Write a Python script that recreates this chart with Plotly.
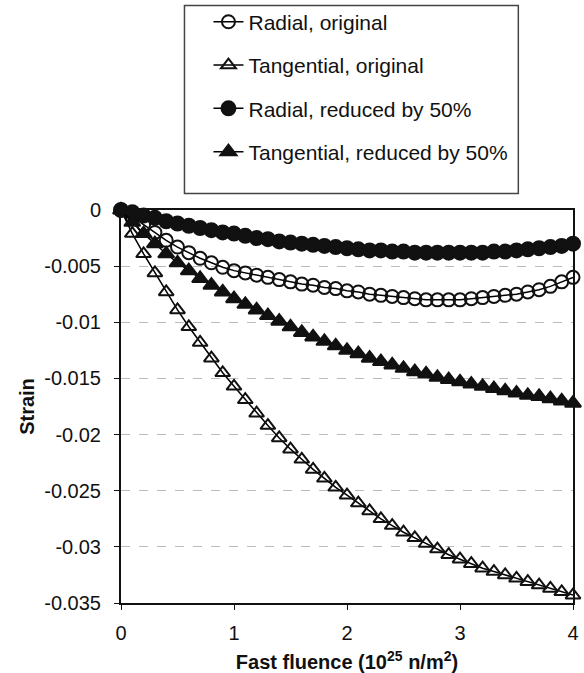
import plotly.graph_objects as go

fluence = [round(i * 0.1, 1) for i in range(41)]

radial_original = [
    0.0, -0.0006, -0.0013, -0.0020, -0.0027, -0.0033, -0.0038, -0.0043, -0.0047, -0.0051,
    -0.0054, -0.0056, -0.0058, -0.0060, -0.0062, -0.0064, -0.0066, -0.0067, -0.0069, -0.0070,
    -0.0072, -0.0073, -0.0075, -0.0076, -0.0077, -0.0078, -0.0079, -0.0080, -0.0080, -0.0080,
    -0.0080, -0.0079, -0.0078, -0.0077, -0.0076, -0.0075, -0.0073, -0.0071, -0.0068, -0.0064,
    -0.0060,
]

tangential_original = [
    0.0, -0.0021, -0.0039, -0.0056, -0.0073, -0.0089, -0.0104, -0.0118, -0.0132, -0.0145,
    -0.0157, -0.0169, -0.0181, -0.0192, -0.0203, -0.0213, -0.0222, -0.0231, -0.0239, -0.0247,
    -0.0254, -0.0261, -0.0268, -0.0275, -0.0281, -0.0287, -0.0292, -0.0297, -0.0302, -0.0307,
    -0.0311, -0.0315, -0.0319, -0.0322, -0.0325, -0.0328, -0.0331, -0.0334, -0.0337, -0.0340,
    -0.0343,
]

radial_reduced = [
    0.0, -0.0002, -0.0005, -0.0007, -0.0010, -0.0012, -0.0014, -0.0016, -0.0018, -0.0020,
    -0.0021, -0.0023, -0.0025, -0.0026, -0.0028, -0.0029, -0.0030, -0.0031, -0.0032, -0.0033,
    -0.0034, -0.0035, -0.0036, -0.0036, -0.0037, -0.0037, -0.0038, -0.0038, -0.0038, -0.0038,
    -0.0038, -0.0038, -0.0038, -0.0037, -0.0037, -0.0036, -0.0035, -0.0034, -0.0033, -0.0032,
    -0.0030,
]

tangential_reduced = [
    0.0, -0.0011, -0.0021, -0.0030, -0.0039, -0.0047, -0.0054, -0.0061, -0.0067, -0.0073,
    -0.0079, -0.0084, -0.0089, -0.0094, -0.0099, -0.0104, -0.0109, -0.0113, -0.0117, -0.0121,
    -0.0125, -0.0128, -0.0132, -0.0135, -0.0138, -0.0141, -0.0144, -0.0146, -0.0149, -0.0151,
    -0.0153, -0.0155, -0.0157, -0.0159, -0.0161, -0.0163, -0.0165, -0.0166, -0.0168, -0.0170,
    -0.0172,
]

series_names = [
    "Radial, original",
    "Tangential, original",
    "Radial, reduced by 50%",
    "Tangential, reduced by 50%",
]

y_tick_vals = [0, -0.005, -0.01, -0.015, -0.02, -0.025, -0.03, -0.035]
y_tick_text = ["0", "-0.005", "-0.01", "-0.015", "-0.02", "-0.025", "-0.03", "-0.035"]
x_tick_vals = [0, 1, 2, 3, 4]
x_tick_text = ["0", "1", "2", "3", "4"]

FONT = "Liberation Sans, Arial, sans-serif"

styles = [
    dict(symbol="circle-open", size=13),
    dict(symbol="triangle-up-open", size=13),
    dict(symbol="circle", size=14),
    dict(symbol="triangle-up", size=14),
]
data = [radial_original, tangential_original, radial_reduced, tangential_reduced]

fig = go.Figure()
for i, (name, ys, st) in enumerate(zip(series_names, data, styles)):
    fig.add_trace(go.Scatter(
        x=fluence, y=ys, name=name, mode="lines+markers",
        legendgroup=f"g{i}",
        line=dict(color="black", width=1.5),
        marker=dict(symbol=st["symbol"], size=st["size"], color="#111111",
                    line=dict(color="#111111", width=2)),
        cliponaxis=False,
    ))

L, R, T, B = 120.5, 11.3, 209.5, 70.3
W, H = 584, 673
pw = W - L - R
ph = H - T - B

def px_x(p):
    return (p - L) / pw

def px_y(p):
    return (H - B - p) / ph

fig.add_shape(type="rect", xref="paper", yref="paper",
              x0=px_x(184), x1=px_x(518), y0=px_y(193), y1=px_y(5),
              line=dict(color="#444444", width=1.5), fillcolor="rgba(0,0,0,0)")

fig.update_layout(
    width=W, height=H,
    margin=dict(l=L, r=R, t=T, b=B, pad=0, autoexpand=False),
    paper_bgcolor="white", plot_bgcolor="white",
    font=dict(family=FONT, size=20, color="#111111"),
    showlegend=True,
    legend=dict(
        x=px_x(208), y=px_y(1), xanchor="left", yanchor="top",
        bgcolor="rgba(0,0,0,0)", borderwidth=0,
        font=dict(family=FONT, size=21, color="#111111"),
        traceorder="grouped", tracegroupgap=13,
    ),
    xaxis=dict(
        range=[0, 4], tickvals=x_tick_vals, ticktext=x_tick_text,
        showline=True, linecolor="#111111", linewidth=2, mirror=True,
        ticks="outside", ticklen=5, tickwidth=1, tickcolor="#111111",
        showgrid=False, zeroline=False, automargin=False,
        tickfont=dict(size=20), ticklabelstandoff=6,
        title=dict(text="<b>Fast fluence (10<sup>25</sup> n/m<sup>2</sup>)</b>",
                   font=dict(size=20), standoff=13),
    ),
    yaxis=dict(
        range=[-0.035, 0], tickvals=y_tick_vals, ticktext=y_tick_text,
        showline=True, linecolor="#111111", linewidth=2, mirror=True,
        ticks="outside", ticklen=5, tickwidth=1, tickcolor="#111111",
        showgrid=True, gridcolor="#bbbbbb", griddash="dash", gridwidth=1,
        zeroline=False, automargin=False,
        tickfont=dict(size=20), ticklabelstandoff=9,
        title=dict(text="<b>Strain</b>", font=dict(size=20), standoff=4),
    ),
)

fig.write_html("out.html")
